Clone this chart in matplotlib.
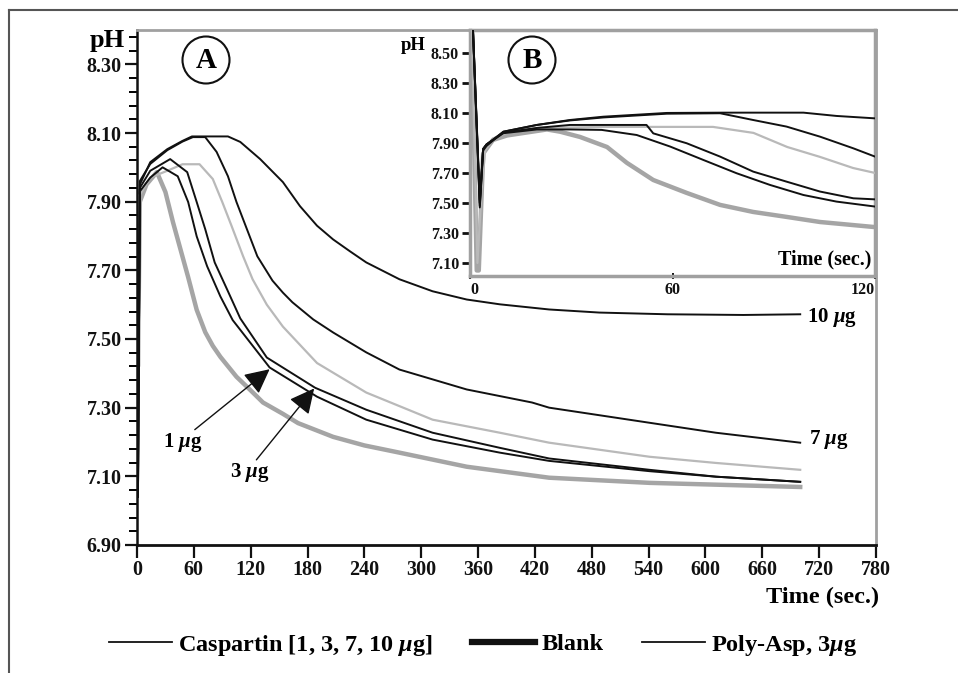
import matplotlib
matplotlib.use('Agg')
import matplotlib.pyplot as plt
from matplotlib.lines import Line2D
from matplotlib.patches import Ellipse

plt.rcParams['font.family'] = ['Liberation Serif', 'DejaVu Serif']
plt.rcParams['font.weight'] = 'bold'
plt.rcParams['mathtext.fontset'] = 'custom'
plt.rcParams['mathtext.rm'] = 'Liberation Serif:bold'
plt.rcParams['mathtext.it'] = 'Liberation Serif:italic:bold'
plt.rcParams['mathtext.bf'] = 'Liberation Serif:bold'

# ---------------- Panel A data (time in s, pH) ----------------
t_10 = [0, 1, 3, 14, 32, 48, 58, 96, 109, 130, 154, 172, 190, 207, 225, 242, 277, 312, 348, 383, 435, 488, 560, 640, 700]
ph_10 = [7.97, 7.04, 7.95, 8.015, 8.053, 8.077, 8.09, 8.09, 8.074, 8.024, 7.957, 7.887, 7.830, 7.790, 7.755, 7.723,
         7.674, 7.639, 7.615, 7.601, 7.586, 7.577, 7.572, 7.570, 7.572]

t_7 = [0, 1, 3, 14, 32, 48, 59, 72, 84, 96, 105, 116, 127, 143, 154, 164, 186, 207, 242, 277, 348, 417, 435, 541, 611, 700]
ph_7 = [7.97, 7.04, 7.96, 8.01, 8.05, 8.075, 8.088, 8.088, 8.045, 7.974, 7.899, 7.820, 7.741, 7.670, 7.635, 7.607,
        7.557, 7.519, 7.461, 7.411, 7.353, 7.315, 7.30, 7.256, 7.227, 7.198]

t_3 = [0, 1, 3, 14, 35, 53, 63, 72, 82, 95, 109, 137, 188, 242, 312, 383, 435, 541, 611, 700]
ph_3 = [7.97, 7.04, 7.94, 7.99, 8.024, 7.986, 7.899, 7.820, 7.723, 7.645, 7.560, 7.446, 7.358, 7.294, 7.227, 7.183,
        7.152, 7.119, 7.099, 7.084]

t_1 = [0, 1, 3, 14, 27, 43, 54, 63, 74, 88, 101, 140, 190, 242, 312, 383, 435, 541, 611, 700]
ph_1 = [7.97, 7.04, 7.93, 7.97, 8.0, 7.974, 7.899, 7.799, 7.712, 7.624, 7.555, 7.417, 7.332, 7.265, 7.207, 7.169,
        7.145, 7.115, 7.099, 7.084]

t_poly = [0, 1, 3, 14, 32, 48, 66, 80, 90, 100, 112, 122, 137, 154, 190, 242, 312, 383, 435, 541, 611, 700]
ph_poly = [7.94, 7.40, 7.92, 7.97, 7.99, 8.009, 8.009, 7.966, 7.899, 7.828, 7.741, 7.674, 7.600, 7.536, 7.43, 7.344,
           7.265, 7.227, 7.198, 7.157, 7.139, 7.119]

t_blank = [0, 1, 3, 10, 21, 30, 38, 45, 54, 63, 72, 80, 88, 105, 119, 133, 154, 170, 207, 240, 277, 348, 435, 541, 700]
ph_blank = [7.93, 7.42, 7.90, 7.95, 7.986, 7.928, 7.840, 7.770, 7.680, 7.585, 7.520, 7.480, 7.448, 7.390, 7.353,
            7.315, 7.282, 7.255, 7.215, 7.190, 7.169, 7.128, 7.096, 7.081, 7.069]

# ---------------- Panel B data (first 120 s) ----------------
tb_blank = [0.5, 2.0, 2.6, 3.9, 6.8, 11, 22.8, 26.7, 32.6, 40.6, 46.5, 54.3, 64.2, 74.1, 83.9, 93.8, 103.7, 119.5, 120]
phb_blank = [8.70, 7.05, 7.05, 7.83, 7.92, 7.95, 7.99, 7.975, 7.94, 7.873, 7.767, 7.653, 7.567, 7.487, 7.44, 7.407,
             7.373, 7.34, 7.34]

tb_poly = [0.5, 2.2, 3.5, 4.5, 6.8, 11, 20, 40, 60, 72, 84, 94, 103.7, 113.5, 120]
phb_poly = [8.70, 7.10, 7.60, 7.85, 7.93, 7.97, 8.0, 8.007, 8.007, 8.007, 7.967, 7.873, 7.807, 7.733, 7.70]

tb_10 = [0.8, 2.9, 3.9, 4.9, 9.9, 19.8, 29.6, 39.5, 58.3, 75, 98.8, 108.6, 120]
phb_10 = [8.70, 7.47, 7.85, 7.88, 7.975, 8.02, 8.053, 8.075, 8.10, 8.102, 8.102, 8.08, 8.064]

tb_7 = [0.8, 2.9, 3.9, 4.9, 9.9, 19.8, 29.6, 39.5, 58.3, 74.1, 83.9, 93.8, 103.7, 113.6, 120]
phb_7 = [8.70, 7.48, 7.86, 7.89, 7.975, 8.02, 8.05, 8.07, 8.095, 8.098, 8.053, 8.009, 7.942, 7.864, 7.809]

tb_3 = [0.8, 2.9, 3.9, 4.9, 9.9, 19.8, 29.6, 38.5, 52.3, 54.3, 64.2, 74.1, 83.9, 93.8, 103.7, 113.6, 120]
phb_3 = [8.70, 7.50, 7.86, 7.89, 7.97, 8.0, 8.02, 8.02, 8.02, 7.964, 7.898, 7.809, 7.709, 7.642, 7.576, 7.531, 7.524]

tb_1 = [0.8, 2.9, 3.9, 4.9, 9.9, 19.8, 29.6, 39, 49.4, 59.3, 69.1, 79, 88.9, 98.8, 108.6, 120]
phb_1 = [8.70, 7.52, 7.86, 7.89, 7.965, 7.99, 7.99, 7.987, 7.953, 7.876, 7.787, 7.698, 7.62, 7.553, 7.509, 7.476]

x_ticks_a = list(range(0, 781, 60))
y_ticks_a = [6.90, 7.10, 7.30, 7.50, 7.70, 7.90, 8.10, 8.30]
x_ticks_b = [60, 120]
y_ticks_b = [7.10, 7.30, 7.50, 7.70, 7.90, 8.10, 8.30, 8.50]

BLACK = '#111111'
LGRAY = '#b9b9b9'
DGRAY = '#a5a5a5'
FRAME = '#a0a0a0'

W, H = 958, 673
fig = plt.figure(figsize=(W / 100, H / 100), dpi=100)

def fx(px):
    return px / W

def fy(py):
    return 1 - py / H

# ---------------- Main axes (A) ----------------
ax = fig.add_axes([fx(137), fy(545), fx(876) - fx(137), fy(30) - fy(545)])
ax.plot(t_blank, ph_blank, color=DGRAY, lw=3.2, zorder=2)
ax.plot(t_poly, ph_poly, color=LGRAY, lw=1.6, zorder=3)
for tt, pp in [(t_1, ph_1), (t_3, ph_3), (t_7, ph_7), (t_10, ph_10)]:
    ax.plot(tt, pp, color=BLACK, lw=1.4, zorder=4)

ax.set_xlim(0, 780)
ax.set_ylim(6.90, 8.40)
ax.set_xticks(x_ticks_a)
ax.set_xticklabels([str(v) for v in x_ticks_a])
ax.set_yticks(y_ticks_a)
ax.set_yticklabels(['%.2f' % v for v in y_ticks_a])
minor = [round(6.90 + 0.04 * i, 2) for i in range(38)]
ax.set_yticks([m for m in minor if m not in y_ticks_a], minor=True)
ax.tick_params(axis='both', which='major', labelsize=14.5, length=9, width=1.6, direction='out', pad=2, colors=BLACK)
ax.tick_params(axis='y', which='minor', length=6, width=1.4, direction='out')
ax.tick_params(axis='x', which='minor', length=0)
for lab in ax.get_xticklabels() + ax.get_yticklabels():
    lab.set_fontweight('bold')
ax.spines['left'].set_linewidth(1.8)
ax.spines['bottom'].set_linewidth(2.0)
ax.spines['left'].set_color(BLACK)
ax.spines['bottom'].set_color(BLACK)
for s in ['top', 'right']:
    ax.spines[s].set_color(FRAME)
    ax.spines[s].set_linewidth(2.0)

# curve labels and arrows
ax.text(707, 7.563, r'10 $\mu$g', fontsize=15, fontweight='bold', ha='left', va='center')
ax.text(709, 7.207, r'7 $\mu$g', fontsize=15, fontweight='bold', ha='left', va='center')
ax.text(48, 7.198, r'1 $\mu$g', fontsize=15, fontweight='bold', ha='center', va='center')
ax.text(119, 7.11, r'3 $\mu$g', fontsize=15, fontweight='bold', ha='center', va='center')
arrow_kw = dict(arrowstyle='-|>,head_length=0.9,head_width=0.45', color=BLACK, lw=1.0, shrinkA=0, shrinkB=0,
                mutation_scale=17)
ax.annotate('', xy=(140, 7.412), xytext=(61, 7.236), arrowprops=arrow_kw, zorder=6)
ax.annotate('', xy=(187, 7.356), xytext=(126, 7.148), arrowprops=arrow_kw, zorder=6)

fig.text(fx(107), fy(41), 'pH', fontsize=19, fontweight='bold', ha='center', va='center')
fig.text(fx(879), fy(597), 'Time (sec.)', fontsize=17.5, fontweight='bold', ha='right', va='center')

# ---------------- Inset axes (B) ----------------
axb = fig.add_axes([fx(470), fy(276), fx(875) - fx(470), fy(30) - fy(276)], zorder=5)
axb.set_facecolor('white')
axb.plot(tb_blank, phb_blank, color=DGRAY, lw=3.2, zorder=2)
axb.plot(tb_poly, phb_poly, color=LGRAY, lw=1.6, zorder=3)
for tt, pp in [(tb_1, phb_1), (tb_3, phb_3), (tb_7, phb_7), (tb_10, phb_10)]:
    axb.plot(tt, pp, color=BLACK, lw=1.4, zorder=4)
axb.set_xlim(0, 120)
axb.set_ylim(7.013, 8.653)
axb.set_yticks(y_ticks_b)
axb.set_yticklabels(['%.2f' % v for v in y_ticks_b])
axb.set_xticks([0] + x_ticks_b)
axb.set_xticklabels(['0'] + [str(v) for v in x_ticks_b])
axb.tick_params(axis='y', labelsize=11.5, length=6, width=2, direction='out', pad=2, colors=BLACK)
axb.tick_params(axis='x', labelsize=11.5, length=5, width=1.4, direction='inout', pad=2, colors=BLACK)
xl = axb.get_xticklabels()
xl[-1].set_horizontalalignment('right')
xl[0].set_horizontalalignment('left')
for lab in axb.get_xticklabels() + axb.get_yticklabels():
    lab.set_fontweight('bold')
for s in axb.spines.values():
    s.set_color(FRAME)
    s.set_linewidth(2.5)
axb.text(0.99, 0.025, 'Time (sec.)', transform=axb.transAxes, fontsize=14.5, fontweight='bold',
         ha='right', va='bottom')
fig.text(fx(413), fy(45), 'pH', fontsize=13.5, fontweight='bold', ha='center', va='center', zorder=10)

# ---------------- circled panel letters ----------------
for cx, cy, letter in [(206, 60, 'A'), (532, 60, 'B')]:
    e = Ellipse((fx(cx), fy(cy)), width=47 / W, height=47 / H, transform=fig.transFigure,
                facecolor='white', edgecolor=BLACK, lw=1.5, zorder=20)
    fig.add_artist(e)
    fig.text(fx(cx), fy(cy), letter, fontsize=21, fontweight='bold', ha='center', va='center', zorder=21)

# ---------------- legend ----------------
handles = [Line2D([], [], color=BLACK, lw=1.3),
           Line2D([], [], color=BLACK, lw=4.5),
           Line2D([], [], color=BLACK, lw=1.3)]
labels = [r'Caspartin [1, 3, 7, 10 $\mu$g]', 'Blank', r'Poly-Asp, 3$\mu$g']
fig.legend(handles, labels, loc='center', bbox_to_anchor=(fx(483), fy(645)), ncol=3, frameon=False,
           prop={'size': 17.5, 'weight': 'bold'}, handlelength=2.6, handletextpad=0.25, columnspacing=1.6)

# ---------------- outer frame ----------------
fig.add_artist(Line2D([fx(9), 1.0], [fy(10), fy(10)], color='#555555', lw=1.5, transform=fig.transFigure))
fig.add_artist(Line2D([fx(9), fx(9)], [fy(10), 0.0], color='#555555', lw=1.5, transform=fig.transFigure))

fig.savefig('out.png', dpi=100)
